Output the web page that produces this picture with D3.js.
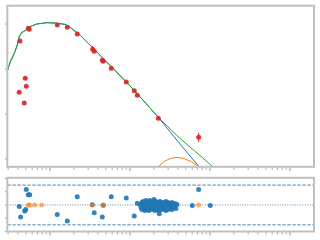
<!DOCTYPE html>
<html><head><meta charset="utf-8">
<script src="https://cdn.jsdelivr.net/npm/d3@7"></script>
<style>html,body{margin:0;padding:0;background:#fff;}svg{display:block;}</style>
</head><body>
<svg id="c" width="320" height="240"></svg>
<script>
// ---- data ----
const obsX = [0.413,0.422,0.477,0.491,0.506,0.536,0.551,1.234,1.645,2.194,3.418,3.579,4.506,4.636,5.837,8.99,11.32,12.34,22.6,72.2];
const obsY = [1.482,2.622,1.244,1.793,1.616,2.904,2.882,2.978,2.927,2.778,2.438,2.393,2.193,2.171,2.016,1.711,1.518,1.416,0.904,0.482];
const obsErr = [0.02,0.02,0.02,0.02,0.02,0.02,0.02,0.02,0.02,0.02,0.08,0.02,0.02,0.02,0.02,0.02,0.02,0.02,0.03,0.105];

const modelX = [0.293,0.300,0.307,0.318,0.332,0.338,0.345,0.365,0.390,0.413,0.443,0.487,0.562,0.682,0.910,1.155,1.540,1.693,2.371,3.477,5.623,9.095,13.34,22.58];
const modelY = [1.940,2.020,2.067,2.150,2.238,2.230,2.289,2.384,2.533,2.718,2.807,2.851,2.940,3.000,3.029,3.022,2.993,2.956,2.756,2.460,2.082,1.704,1.384,0.927];
const totalTailX = [42.17,74.99,118.9];
const totalTailY = [0.456,0.078,-0.233];
const comp1TailX = [42.17,72.86,89.1];
const comp1TailY = [0.333,-0.167,-0.356];
const comp2X = [21.13,23.71,27.38,32.54,38.68,47.32,57.88,68.77,79.43];
const comp2Y = [-0.267,-0.133,-0.044,0.016,0.038,0.011,-0.056,-0.144,-0.267];

const resX = [0.413,0.430,0.483,0.497,0.506,0.536,0.558,1.234,1.645,2.194,3.379,3.579,4.506,4.636,5.837,8.99,11.32,12.34,23.23,60.06,72.2,100.9,
  13.34,13.73,14.13,14.13,14.54,14.54,14.97,15.40,15.40,15.85,15.85,16.32,16.32,16.79,16.79,17.28,17.28,17.78,17.78,18.31,18.31,18.84,18.84,19.39,19.39,19.95,19.95,20.54,20.54,21.13,21.13,21.76,21.76,22.39,22.39,23.05,23.05,23.71,23.71,24.41,24.41,25.12,25.12,25.86,25.86,26.61,26.61,27.39,27.39,28.18,28.18,29.01,29.01,29.85,29.85,30.73,31.62,31.62,32.55,33.50,33.50,34.48,35.48,36.52,37.58,38.68];
const resY = [-0.23,-1.80,-0.89,-0.69,2.32,1.56,1.56,-1.45,-2.41,1.25,0.03,-1.19,-1.80,-0.05,1.25,1.07,-1.65,0.27,-1.34,-0.08,2.32,-0.08,
  0.08,-0.38,0.38,-0.69,0.53,-0.08,-0.53,0.23,-0.84,0.69,-0.23,0.08,-0.69,0.53,-0.38,0.23,-0.84,0.69,-0.08,-0.53,0.38,0.08,-0.69,0.53,-0.23,0.84,-0.53,0.23,-0.84,0.53,-0.23,-0.69,0.08,0.38,-0.38,-0.84,0.23,0.53,-0.23,0.08,-0.69,0.38,-0.38,-0.53,0.23,0.08,-0.69,0.38,-0.23,-0.84,0.53,0.08,-0.38,0.38,-0.69,-0.08,0.23,-0.53,-0.23,0.38,-0.69,0.08,-0.38,0.23,-0.53,0.08];
const limX = [0.536,0.558,0.644,0.788,3.379,4.636,72.2];
const limY = [0,0,0,0,0,0,0];

const yTicksTop = [0,1,2,3];
const yTicksRes = [-4,-2,0,2,4];
const resBands = [-3,3];

// ---- layout ----
const svg = d3.select('#c');
const L = 7.3, R = 314;
const x = d3.scaleLog().domain([0.293, 1995]).range([L, R]);
const yTop = d3.scaleLinear().domain([-0.173, 3.407]).range([166.8, 5.7]);
const yRes = d3.scaleLinear().domain([-4.0, 4.1]).range([231.5, 177.8]);

const spine = '#c0c0c0', tickC = '#b4b4b4';

function panel(id, y, y0, y1) {
  svg.append('clipPath').attr('id', id).append('rect')
    .attr('x', L).attr('y', y1).attr('width', R - L).attr('height', y0 - y1);
  return svg.append('g').attr('clip-path', `url(#${id})`);
}
const gTop = panel('cp1', yTop, 166.8, 5.7);
const gRes = panel('cp2', yRes, 231.5, 177.8);

// x ticks
const majors = [0.1,1,10,100,1000,10000];
const minors = [];
[0.1,1,10,100,1000].forEach(d => { for (let k = 2; k <= 9; k++) minors.push(d * k); });
function xTicks(yb) {
  const g = svg.append('g');
  minors.filter(v => v >= 0.293 && v <= 1995).forEach(v => {
    g.append('line').attr('x1', x(v)).attr('x2', x(v)).attr('y1', yb).attr('y2', yb + 2.2)
      .attr('stroke', tickC).attr('stroke-width', 1.2);
  });
  majors.filter(v => v >= 0.293 && v <= 1995).forEach(v => {
    g.append('line').attr('x1', x(v)).attr('x2', x(v)).attr('y1', yb).attr('y2', yb + 3.4)
      .attr('stroke', tickC).attr('stroke-width', 1.4);
  });
}
xTicks(167.5);
xTicks(232.2);
function yTicks(sc, vals) {
  vals.forEach(v => {
    svg.append('line').attr('x1', L - 2.5).attr('x2', L).attr('y1', sc(v)).attr('y2', sc(v))
      .attr('stroke', tickC).attr('stroke-width', 1.2);
  });
}
yTicks(yTop, yTicksTop);
yTicks(yRes, yTicksRes);

// ---- top panel ----
const line = d3.line().x(d => x(d[0])).y(d => yTop(d[1]));
const base = d3.zip(modelX, modelY);
gTop.append('path').attr('d', line(base.concat(d3.zip(comp1TailX, comp1TailY))))
  .attr('fill', 'none').attr('stroke', '#1f77b4').attr('stroke-width', 1);
gTop.append('path').attr('d', line(d3.zip(comp2X, comp2Y)))
  .attr('fill', 'none').attr('stroke', '#ff7f0e').attr('stroke-width', 1);
gTop.append('path').attr('d', line(base.concat(d3.zip(totalTailX, totalTailY))))
  .attr('fill', 'none').attr('stroke', '#2ca02c').attr('stroke-width', 1);

obsX.forEach((v, i) => {
  gTop.append('line').attr('x1', x(v)).attr('x2', x(v))
    .attr('y1', yTop(obsY[i] - obsErr[i])).attr('y2', yTop(obsY[i] + obsErr[i]))
    .attr('stroke', '#d62728').attr('stroke-width', 1);
  gTop.append('circle').attr('cx', x(v)).attr('cy', yTop(obsY[i])).attr('r', 2.5)
    .attr('fill', '#d62728').attr('opacity', 0.9);
});

// ---- residual panel ----
resBands.forEach(b => {
  gRes.append('line').attr('x1', L).attr('x2', R).attr('y1', yRes(b)).attr('y2', yRes(b))
    .attr('stroke', '#2f6f9f').attr('stroke-width', 1).attr('stroke-dasharray', '3.5,1.5').attr('opacity', 0.85);
});
gRes.append('line').attr('x1', L).attr('x2', R).attr('y1', yRes(0)).attr('y2', yRes(0))
  .attr('stroke', '#2f6f9f').attr('stroke-width', 1).attr('stroke-dasharray', '1,1.5').attr('opacity', 0.8);

resX.forEach((v, i) => {
  gRes.append('circle').attr('cx', x(v)).attr('cy', yRes(resY[i])).attr('r', 2.5)
    .attr('fill', '#1f77b4').attr('opacity', 0.9);
});
limX.forEach((v, i) => {
  gRes.append('circle').attr('cx', x(v)).attr('cy', yRes(limY[i])).attr('r', 2.5)
    .attr('fill', '#ff7f0e').attr('opacity', 0.6);
});

// spines
[[5.7,166.8],[177.8,231.5]].forEach(([t,b]) => {
  svg.append('rect').attr('x', L).attr('y', t).attr('width', R - L).attr('height', b - t)
    .attr('fill', 'none').attr('stroke', spine).attr('stroke-width', 2);
});
</script>
</body></html>
